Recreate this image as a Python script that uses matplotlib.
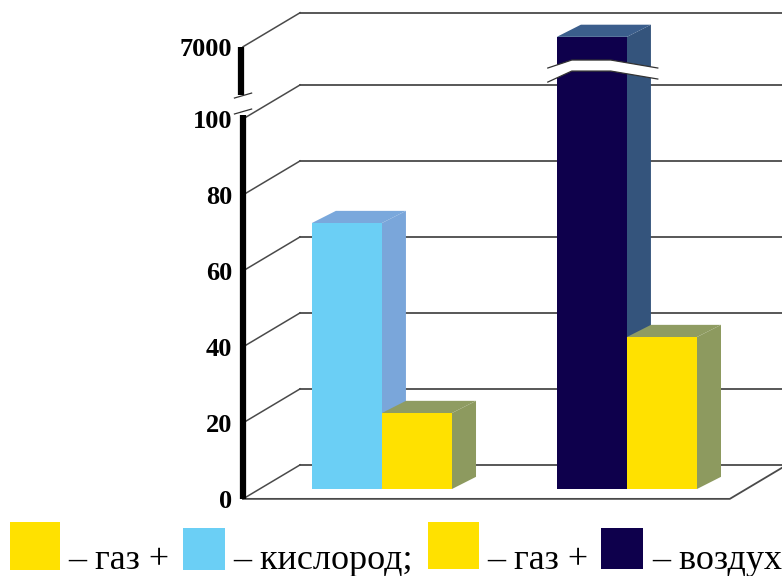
import matplotlib
matplotlib.use('Agg')
import matplotlib.pyplot as plt
from matplotlib.patches import Polygon, Rectangle

# data
groups = ['газ + кислород', 'газ + воздух']
oxidizer = [70, 7000]      # кислород / воздух
gas = [20, 40]             # газ
tick_values = [0, 20, 40, 60, 80, 100, 7000]
tick_labels = ['0', '20', '40', '60', '80', '100', '7000']

c_front = {'ox': '#6BCFF5', 'air': '#0E004C', 'gas': '#FFE100'}
c_side = {'ox': '#7AA6DA', 'air': '#34547C', 'gas': '#8D9A5F'}
c_top = {'ox': '#7AA8DC', 'air': '#3B5E8C', 'gas': '#8F9C62'}


def disp(v):
    # broken axis: 0..100 linear, then jump to the 7000 level
    if v <= 100:
        return v
    return 100 + (v - 6900) * 0.19


W, H = 782, 576
fig = plt.figure(figsize=(W / 100, H / 100), dpi=100)
ax = fig.add_axes([0, 0, 1, 1])
ax.set_xlim(-1.559, 1.633)
ax.set_ylim(-20.3, 131.3)
for s in ax.spines.values():
    s.set_visible(False)

axis_x = -0.567
wall_dx, wall_dy = 0.233, 8.95
bar_w = 0.286
bar_dx, bar_dy = 0.098, 3.2
base = 2.6
grid_col = '#4a4a4a'

# back wall grid lines and the diagonals to the axis
for t in tick_values:
    y = disp(t)
    ax.plot([axis_x, axis_x + wall_dx], [y, y + wall_dy], color=grid_col, lw=1.1, zorder=1)
    ax.plot([axis_x + wall_dx, 1.7], [y + wall_dy, y + wall_dy], color=grid_col, lw=1.3, zorder=1)

# floor front edge
floor_r = 1.42
ax.plot([axis_x, floor_r, floor_r + wall_dx], [0, 0, wall_dy], color=grid_col, lw=1.3, zorder=1)

# thick y axis with break
ax.plot([axis_x, axis_x], [0, 101], color='black', lw=4.5, solid_capstyle='butt', zorder=5)
ax.plot([axis_x - 0.008, axis_x - 0.008], [106.3, disp(7000)], color='black', lw=4.5,
        solid_capstyle='butt', zorder=5)
for yb in (101.3, 105.5):
    ax.plot([axis_x - 0.035, axis_x + 0.035], [yb, yb + 1.3], color='#333333', lw=0.9, zorder=5)

ax.set_yticks([disp(t) for t in tick_values], tick_labels)
ax.spines['left'].set_position(('data', axis_x))
ax.tick_params(axis='y', length=0, pad=8)
ax.set_xticks([])
for lab in ax.get_yticklabels():
    lab.set_fontfamily('Liberation Serif')
    lab.set_fontweight('bold')
    lab.set_fontsize(19)


def bar3d(x0, value, key):
    y0 = base
    y1 = base + disp(value)
    front = [(x0, y0), (x0 + bar_w, y0), (x0 + bar_w, y1), (x0, y1)]
    side = [(x0 + bar_w, y0), (x0 + bar_w + bar_dx, y0 + bar_dy),
            (x0 + bar_w + bar_dx, y1 + bar_dy), (x0 + bar_w, y1)]
    top = [(x0, y1), (x0 + bar_w, y1), (x0 + bar_w + bar_dx, y1 + bar_dy), (x0 + bar_dx, y1 + bar_dy)]
    ax.add_patch(Polygon(side, closed=True, fc=c_side[key], ec='none', zorder=3))
    ax.add_patch(Polygon(top, closed=True, fc=c_top[key], ec='none', zorder=3))
    ax.add_patch(Polygon(front, closed=True, fc=c_front[key], ec='none', zorder=3))


keys = ['ox', 'air']
for i in range(len(groups)):
    bar3d(i - bar_w, oxidizer[i], keys[i])
    bar3d(i, gas[i], 'gas')

# break mark across the tall bar
x0 = 1 - bar_w
bx = [x0 - 0.037, x0 + 0.061, x0 + 0.22, x0 + 0.412]
top_edge = [113.4, 115.5, 115.5, 113.4]
bot_edge = [109.7, 112.6, 112.6, 110.5]
band = list(zip(bx, top_edge)) + list(zip(bx[::-1], bot_edge[::-1]))
ax.add_patch(Polygon(band, closed=True, fc='white', ec='none', zorder=4))
ax.plot(bx, top_edge, color='#333333', lw=0.9, zorder=4)
ax.plot(bx, bot_edge, color='#333333', lw=0.9, zorder=4)

# legend row under the chart
legend_items = [
    ('#FFE100', 10, 50, 522, 48, '– газ +', 68),
    ('#6BCFF5', 183, 42, 528, 42, '– кислород;', 233),
    ('#FFE100', 428, 51, 522, 47, '– газ +', 487),
    ('#0E004C', 601, 42, 528, 41, '– воздух', 652),
]
for col, sx, sw, sy, sh, txt, tx in legend_items:
    fig.add_artist(Rectangle((sx / W, 1 - (sy + sh) / H), sw / W, sh / H,
                             transform=fig.transFigure, fc=col, ec='none'))
    fig.text(tx / W, 1 - 569 / H, txt, ha='left', va='baseline',
             fontfamily='Liberation Serif', fontsize=26, color='black')

fig.savefig('out.png', dpi=100)
